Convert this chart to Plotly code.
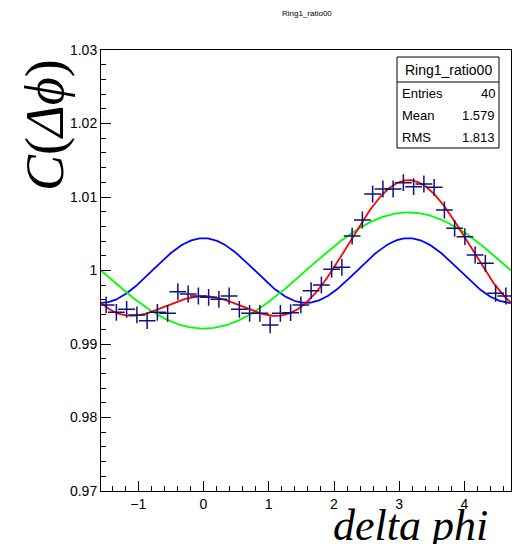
import numpy as np
import plotly.graph_objects as go

# ---- data ----
n_bins = 40
x_min, x_max = -np.pi / 2, 3 * np.pi / 2
bin_centers = [x_min + (i + 0.5) * (x_max - x_min) / n_bins for i in range(n_bins)]
ratio_values = [
    0.99531, 0.99431, 0.99472, 0.99395, 0.99317, 0.99431, 0.99418, 0.99712, 0.99680, 0.99653,
    0.99635, 0.99608, 0.99653, 0.99472, 0.99418, 0.99418, 0.99259, 0.99418, 0.99426, 0.99531,
    0.99725, 0.99803, 1.00016, 1.00044, 1.00469, 1.00687, 1.01041, 1.01109, 1.01109, 1.01195,
    1.01140, 1.01177, 1.01132, 1.00823, 1.00574, 1.00460, 1.00211, 1.00098, 0.99690, 0.99653,
]
# fit parameters: baseline, cos(phi) amplitude, cos(2phi) amplitude
fit_baseline = 1.0
fit_a1 = -0.0079
fit_a2 = 0.0044

stats_title = "Ring1_ratio00"
stats_rows = [("Entries", "40"), ("Mean", "1.579"), ("RMS", "1.813")]

# ---- figure ----
phi = np.linspace(x_min, x_max, 400)
red = fit_baseline + fit_a1 * np.cos(phi) + fit_a2 * np.cos(2 * phi)
blue = fit_baseline + fit_a2 * np.cos(2 * phi)
green = fit_baseline + fit_a1 * np.cos(phi)

fig = go.Figure()
fig.add_trace(go.Scatter(x=phi, y=blue, mode="lines", line=dict(color="#0000ff", width=1.8)))
fig.add_trace(go.Scatter(x=phi, y=green, mode="lines", line=dict(color="#00ff00", width=1.8)))
fig.add_trace(go.Scatter(x=phi, y=red, mode="lines", line=dict(color="#ff0000", width=1.8)))
fig.add_trace(go.Scatter(
    x=bin_centers, y=ratio_values, mode="markers",
    marker=dict(symbol="cross-thin", size=12, line=dict(color="#10107a", width=1.5)),
))

font_sans = "Liberation Sans, Arial, sans-serif"
font_serif = "Liberation Serif, Times New Roman, serif"
fig.update_layout(
    width=516, height=544,
    margin=dict(l=101, r=5, t=50, b=53),
    paper_bgcolor="white", plot_bgcolor="white",
    showlegend=False,
    font=dict(family=font_sans, size=14, color="black"),
    xaxis=dict(
        range=[x_min, x_max], showgrid=False, zeroline=False,
        showline=True, linecolor="black", linewidth=1, mirror=True,
        ticks="inside", ticklen=10, tickcolor="black", dtick=1, tick0=0,
        tickfont=dict(size=14, family=font_sans),
        minor=dict(ticks="inside", ticklen=5, dtick=0.2, tickcolor="black"),
    ),
    yaxis=dict(
        range=[0.97, 1.03], showgrid=False, zeroline=False,
        showline=True, linecolor="black", linewidth=1, mirror=True,
        ticks="inside", ticklen=10, tickcolor="black",
        tickvals=[0.97, 0.98, 0.99, 1.0, 1.01, 1.02, 1.03],
        ticktext=["0.97", "0.98", "0.99", "1", "1.01", "1.02", "1.03"],
        tickfont=dict(size=14, family=font_sans),
        minor=dict(ticks="inside", ticklen=5, dtick=0.002, tickcolor="black"),
    ),
)


def px(xp):
    return (xp - 101) / (511 - 101)


def py(yp):
    return (491 - yp) / (491 - 50)


# top title
fig.add_annotation(x=px(307), y=py(14), xref="paper", yref="paper", text=stats_title,
                   xanchor="center", yanchor="middle",
                   showarrow=False, font=dict(size=8, family=font_sans))

# axis titles
fig.add_annotation(x=px(45), y=py(125), xref="paper", yref="paper",
                   xanchor="center", yanchor="middle",
                   text="<i>C</i>(<i>Δϕ</i>)", textangle=-90, showarrow=False,
                   font=dict(size=54, family=font_serif))
fig.add_annotation(x=px(490), y=py(525), xref="paper", yref="paper",
                   xanchor="right", yanchor="middle",
                   text="<i>delta phi</i>", showarrow=False,
                   font=dict(size=44, family=font_serif))

# stats box
bx0, bx1, by0, by1, bsep = 397, 499, 57, 148, 82
fig.add_shape(type="rect", xref="paper", yref="paper",
              x0=px(bx0), x1=px(bx1), y0=py(by1), y1=py(by0),
              line=dict(color="black", width=1), fillcolor="white", layer="above")
fig.add_shape(type="line", xref="paper", yref="paper",
              x0=px(bx0), x1=px(bx1), y0=py(bsep), y1=py(bsep),
              line=dict(color="black", width=1), layer="above")
fig.add_annotation(x=px((bx0 + bx1) / 2), y=py(69.5), xref="paper", yref="paper",
                   xanchor="center", yanchor="middle",
                   text=stats_title, showarrow=False, font=dict(size=14, family=font_sans))
for i, (k, v) in enumerate(stats_rows):
    yy = py(93 + 22 * i)
    fig.add_annotation(x=px(bx0 + 3), y=yy, xref="paper", yref="paper",
                       xanchor="left", yanchor="middle",
                       text=k, showarrow=False, font=dict(size=13, family=font_sans))
    fig.add_annotation(x=px(bx1 - 2), y=yy, xref="paper", yref="paper",
                       xanchor="right", yanchor="middle",
                       text=v, showarrow=False, font=dict(size=13, family=font_sans))

fig.write_html("out.html", config={"displayModeBar": False},
               post_script="document.body.style.margin='0';")
